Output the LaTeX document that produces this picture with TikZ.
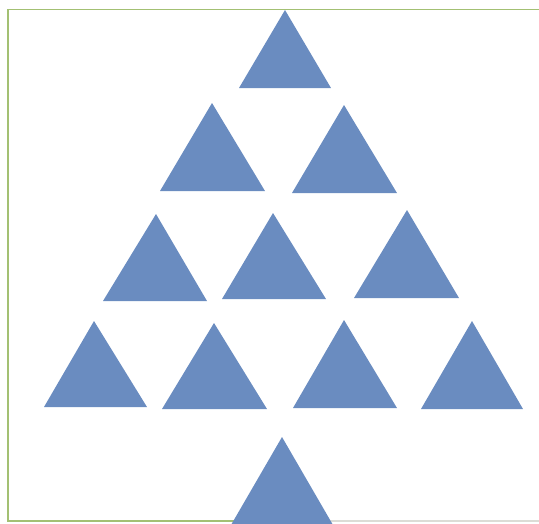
\documentclass[tikz,border=0pt]{standalone}
\usepackage{xcolor}
\definecolor{TriBlue}{HTML}{6A8CC0}
\definecolor{FrameGreen}{HTML}{A3C073}
\definecolor{FrameGrey}{HTML}{DCDCD6}

\begin{document}
\begin{tikzpicture}[
  x=1pt,y=-1pt,
  tri/.style={fill=TriBlue},
  frame/.style={draw=FrameGreen,line width=1.4pt},
  faded/.style={draw=FrameGrey,line width=1.2pt}
]
\useasboundingbox (0,0) rectangle (539,523);
\clip (0,0) rectangle (539,523);
% open frame, no right side
\coordinate (topR) at (539,9.5);
\coordinate (topL) at (8,9.5);
\coordinate (botL) at (8,521);
\coordinate (botM) at (282,521);
\coordinate (botR) at (539,521);
\draw[frame] (topR) -- (topL) -- (botL) -- (botM);
\draw[faded] (botM) -- (botR);
% triangles: apex x/apex y/base left/base right/base y
\foreach \ax/\ay/\bl/\br/\by in {
  285/10/239/331/88,
  212/103/160/265/191,
  344/105/292/397/193,
  156/214/103/207/301,
  273/213/222/326/299,
  407/210/354/459/298,
  94/321/44/147/407,
  214/323/162/267/409,
  344/320/293/397/408,
  472/321/421/523/409,
  282/437/231/333/525}
  \fill[tri] (\ax,\ay) -- (\bl,\by) -- (\br,\by) -- cycle;
\end{tikzpicture}
\end{document}
